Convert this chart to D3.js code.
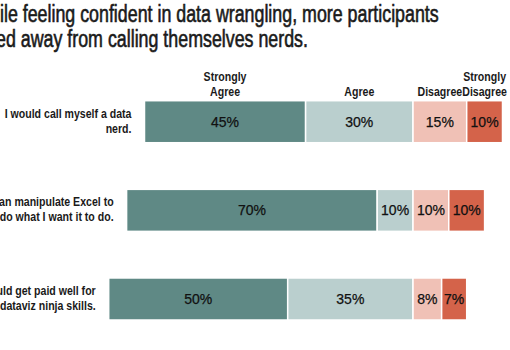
<!DOCTYPE html>
<html>
<head>
<meta charset="utf-8">
<script src="https://cdn.jsdelivr.net/npm/d3@7"></script>
<style>
  body { margin: 0; background: #fff; }
  svg { display: block; }
  .cond { font-family: "Liberation Sans", Arial, sans-serif; }
</style>
</head>
<body>
<div id="the_chart"></div>
<script>
// statements (one row each), already wrapped like the original
var statements = ["I would call myself a data nerd.",
                  "I can manipulate Excel to do what I want it to do.",
                  "I could get paid well for my dataviz ninja skills."];
var statement_lines = [["I would call myself a data", "nerd."],
                       ["I can manipulate Excel to", "do what I want it to do."],
                       ["I could get paid well for", "my dataviz ninja skills."]];
var answers = ["Strongly Agree", "Agree", "Disagree", "Strongly Disagree"];
var answer_lines = [["Strongly", "Agree"], ["Agree"], ["Disagree"], ["Strongly", "Disagree"]];

// percentages per answer, one value per statement
var strongly_agree = [45, 70, 50];
var agree = [30, 10, 35];
var disagree = [15, 10, 8];
var strongly_disagree = [10, 10, 7];

var colors = ["#5f8985", "#bacfce", "#f0c1b6", "#d4634a"];

var title_lines = ["While feeling confident in data wrangling, more participants",
                   "shied away from calling themselves nerds."];

var w = 510;
var h = 350;

var svg = d3.select("#the_chart")
    .append("svg")
    .attr("width", w)
    .attr("height", h);

// helper: width of a string in a given font
function text_w(str, size, weight) {
    var t = svg.append("text")
        .attr("class", "cond")
        .attr("font-size", size)
        .attr("font-weight", weight)
        .text(str);
    var l = t.node().getComputedTextLength();
    t.remove();
    return l;
}

// no narrow font installed, so squeeze the text horizontally
var title_size = 23;
var title_weight = "normal";
var title_sx = 439 / text_w(title_lines[0].slice(2), title_size, title_weight);
var title_x = -text_w("Wh", title_size, title_weight) * title_sx;
var label_size = 12.5;
var label_sx = 127 / text_w(statement_lines[0][0], label_size, "bold");

// build the stacked rows, agree/disagree boundary sits at 0
var rows = statements.map(function (s, i) {
    var vals = [strongly_agree[i], agree[i], disagree[i], strongly_disagree[i]];
    var start = -(vals[0] + vals[1]);
    var segs = vals.map(function (v, j) {
        var seg = { row: s, answer: answers[j], value: v, x0: start, x1: start + v, j: j };
        start += v;
        return seg;
    });
    return { statement: s, lines: statement_lines[i], segs: segs };
});

var xscale = d3.scaleLinear()
    .domain([-85, 25])
    .range([108.7, 502.5]);

var yscale = d3.scaleBand()
    .domain(statements)
    .range([100.7, 320])
    .paddingInner(0.526)
    .paddingOuter(0);

// title (thin stroke gives a medium weight)
svg.append("text")
    .attr("class", "cond")
    .attr("transform", "translate(" + title_x + ",22) scale(" + title_sx + ",1)")
    .attr("font-size", title_size)
    .attr("font-weight", title_weight)
    .attr("fill", "#1a1a1a")
    .attr("stroke", "#1a1a1a")
    .attr("stroke-width", 0.6)
    .selectAll("tspan")
    .data(title_lines)
    .enter().append("tspan")
    .attr("x", 0)
    .attr("dy", function (d, i) { return i == 0 ? 0 : 25; })
    .text(function (d) { return d; });

// bars
var row_g = svg.selectAll(".row")
    .data(rows)
    .enter().append("g")
    .attr("class", "row");

row_g.selectAll("rect")
    .data(function (d) { return d.segs; })
    .enter().append("rect")
    .attr("x", function (d) { return xscale(d.x0); })
    .attr("y", function (d) { return yscale(d.row); })
    .attr("width", function (d) { return xscale(d.x1) - xscale(d.x0); })
    .attr("height", yscale.bandwidth())
    .attr("fill", function (d) { return colors[d.j]; })
    .attr("stroke", "#fff")
    .attr("stroke-width", 1.5);

// value labels
row_g.selectAll(".val")
    .data(function (d) { return d.segs; })
    .enter().append("text")
    .attr("class", "val")
    .attr("x", function (d) { return xscale((d.x0 + d.x1) / 2); })
    .attr("y", function (d) { return yscale(d.row) + yscale.bandwidth() / 2; })
    .attr("dy", "0.36em")
    .attr("text-anchor", "middle")
    .attr("font-family", "Liberation Sans, Arial, sans-serif")
    .attr("font-size", 14)
    .attr("fill", "#111")
    .attr("stroke", "#111")
    .attr("stroke-width", 0.25)
    .text(function (d) { return d.value + "%"; });

// statement labels, right aligned next to each bar
row_g.append("text")
    .attr("class", "cond")
    .attr("text-anchor", "end")
    .attr("font-size", label_size)
    .attr("font-weight", "bold")
    .attr("fill", "#1a1a1a")
    .attr("transform", function (d) {
        return "translate(" + (xscale(d.segs[0].x0) - 13) + "," +
            (yscale(d.statement) + yscale.bandwidth() / 2 - 4) + ") scale(" + label_sx + ",1)";
    })
    .selectAll("tspan")
    .data(function (d) { return d.lines; })
    .enter().append("tspan")
    .attr("x", 0)
    .attr("y", function (d, k) { return k * 15; })
    .text(function (d) { return d; });

// answer headers over the first row
svg.append("g")
    .selectAll("text")
    .data(rows[0].segs)
    .enter().append("text")
    .attr("class", "cond")
    .attr("text-anchor", "middle")
    .attr("font-size", label_size)
    .attr("font-weight", "bold")
    .attr("fill", "#1a1a1a")
    .attr("transform", function (d) {
        return "translate(" + xscale((d.x0 + d.x1) / 2) + "," + (yscale(d.row) - 5) + ") scale(" + label_sx + ",1)";
    })
    .each(function (d) {
        var lines = answer_lines[d.j];
        var t = d3.select(this);
        lines.forEach(function (l, k) {
            t.append("tspan")
                .attr("x", 0)
                .attr("y", -(lines.length - 1 - k) * 14.5)
                .text(l);
        });
    });
</script>
</body>
</html>
